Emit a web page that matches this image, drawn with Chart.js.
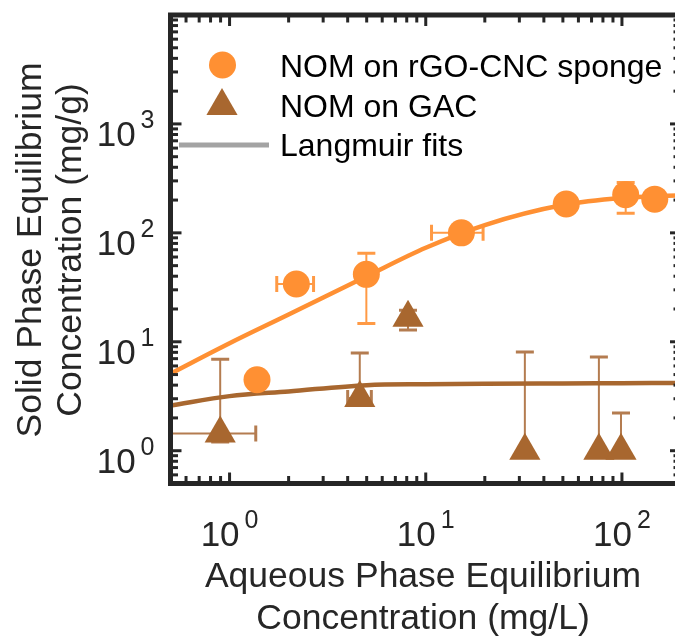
<!DOCTYPE html>
<html>
<head>
<meta charset="utf-8">
<script src="https://cdn.jsdelivr.net/npm/chart.js@4.4.1/dist/chart.umd.min.js"></script>
<style>
  html, body { margin: 0; padding: 0; background: #fff; overflow: hidden; }
  canvas { display: block; }
</style>
</head>
<body>
<canvas id="isotherm" width="700" height="637"></canvas>
<script>
// NOM on rGO-CNC sponge (mg/L, mg/g)
const spongeX   = [1.38, 2.19, 4.98, 15.2, 52, 104.5, 147];
const spongeY   = [4.48, 33.9, 41.6, 100, 184, 224, 204];
const spongeXLo = [null, 1.74, null, 10.7, null, null, null];
const spongeXHi = [null, 2.68, null, 19.6, null, null, null];
const spongeYLo = [null, null, 14.7, null, null, 151, null];
const spongeYHi = [null, null, 65, null, null, 290, null];

// NOM on GAC
const gacX   = [0.896, 4.61, 8.12, 32, 76.3, 98.9];
const gacY   = [1.44, 3.05, 16.6, 1.0, 1.0, 1.0];
const gacXLo = [0.44, 4.0, null, null, null, null];
const gacXHi = [1.36, 5.28, null, null, null, null];
const gacYLo = [1.2, 2.6, 12.8, null, null, null];
const gacYHi = [6.9, 7.9, 19.5, 8.06, 7.24, 2.22];

// Langmuir fit curves
const fitX       = [0.5, 1, 2, 5, 10, 20, 50, 100, 200];
const spongeFitY = [5.1, 9.7, 17.8, 40, 73, 118, 180, 209, 221];
const gacFitY    = [2.6, 3.17, 3.5, 4.0, 4.08, 4.12, 4.15, 4.17, 4.19];

const xTickValues = [1, 10, 100];
const xTickExps   = ['0', '1', '2'];
const yTickValues = [1, 10, 100, 1000];
const yTickExps   = ['0', '1', '2', '3'];

const legendLabels = ['NOM on rGO-CNC sponge', 'NOM on GAC', 'Langmuir fits'];
const xTitle = ['Aqueous Phase Equilibrium', 'Concentration (mg/L)'];
const yTitle = ['Solid Phase Equilibrium', 'Concentration (mg/g)'];

const FONT = '"Liberation Sans", Arial, Helvetica, sans-serif';
const INK = '#262626';
const ORANGE = '#FF9033';
const BROWN = '#A8672F';
const ORANGE_ERR = '#FF9A45';
const BROWN_ERR = '#B47C50';
const GREY = '#A3A3A3';

function pairs(xs, ys) {
    return xs.map((x, i) => ({ x: x, y: ys[i] }));
}

function seg(ctx, x1, y1, x2, y2) {
    ctx.beginPath();
    ctx.moveTo(x1, y1);
    ctx.lineTo(x2, y2);
    ctx.stroke();
}

function logTicks(min, max) {
    const out = [];
    for (let e = Math.floor(Math.log10(min)); e <= Math.ceil(Math.log10(max)); e++) {
        for (let m = 1; m <= 9; m++) {
            const v = m * Math.pow(10, e);
            if (v >= min * 0.999 && v <= max * 1.001) out.push({ v: v, major: m === 1 });
        }
    }
    return out;
}

function powerLabel(ctx, exp, x, y, align) {
    ctx.font = '35px ' + FONT;
    const wb = ctx.measureText('10').width;
    ctx.font = '25px ' + FONT;
    const we = ctx.measureText(exp).width;
    const gap = 5;
    const total = wb + gap + we;
    const x0 = align === 'center' ? x - total / 2 : x - total;
    ctx.textAlign = 'left';
    ctx.textBaseline = 'alphabetic';
    ctx.font = '35px ' + FONT;
    ctx.fillText('10', x0, y);
    ctx.font = '25px ' + FONT;
    ctx.fillText(exp, x0 + wb + gap, y - 18);
}

const errorBars = {
    id: 'errorBars',
    beforeDatasetsDraw(chart) {
        const { ctx, chartArea: a } = chart;
        const xs = chart.scales.x, ys = chart.scales.y;
        ctx.save();
        ctx.beginPath();
        ctx.rect(a.left, a.top, a.right - a.left, a.bottom - a.top);
        ctx.clip();
        const sets = [
            [spongeX, spongeY, spongeXLo, spongeXHi, spongeYLo, spongeYHi, ORANGE_ERR],
            [gacX, gacY, gacXLo, gacXHi, gacYLo, gacYHi, BROWN_ERR]
        ];
        sets.forEach(([X, Y, xl, xh, yl, yh, color]) => {
            ctx.strokeStyle = color;
            X.forEach((x, i) => {
                const px = xs.getPixelForValue(x);
                const py = ys.getPixelForValue(Y[i]);
                if (yl[i] != null || yh[i] != null) {
                    const t = ys.getPixelForValue(yh[i] != null ? yh[i] : Y[i]);
                    const b = ys.getPixelForValue(yl[i] != null ? yl[i] : Y[i]);
                    ctx.lineWidth = 2;
                    seg(ctx, px, t, px, b);
                    ctx.lineWidth = 3;
                    if (yh[i] != null) seg(ctx, px - 9, t, px + 9, t);
                    if (yl[i] != null) seg(ctx, px - 9, b, px + 9, b);
                }
                if (xl[i] != null || xh[i] != null) {
                    const l = xs.getPixelForValue(xl[i] != null ? xl[i] : x);
                    const r = xs.getPixelForValue(xh[i] != null ? xh[i] : x);
                    ctx.lineWidth = 2;
                    seg(ctx, l, py, r, py);
                    ctx.lineWidth = 3;
                    if (xl[i] != null) seg(ctx, l, py - 8, l, py + 8);
                    if (xh[i] != null) seg(ctx, r, py - 8, r, py + 8);
                }
            });
        });
        ctx.restore();
    }
};

const axesFrame = {
    id: 'axesFrame',
    afterDraw(chart) {
        const { ctx, chartArea: a } = chart;
        const xs = chart.scales.x, ys = chart.scales.y;
        ctx.save();
        ctx.strokeStyle = INK;
        ctx.fillStyle = INK;

        // box
        ctx.lineWidth = 5;
        ctx.strokeRect(a.left, a.top, a.right - a.left, a.bottom - a.top);

        // inward ticks on all four sides
        ctx.lineWidth = 3;
        logTicks(xs.min, xs.max).forEach(t => {
            const px = xs.getPixelForValue(t.v);
            const len = t.major ? 11 : 7.5;
            seg(ctx, px, a.bottom, px, a.bottom - len);
            seg(ctx, px, a.top, px, a.top + len);
        });
        logTicks(ys.min, ys.max).forEach(t => {
            const py = ys.getPixelForValue(t.v);
            const len = t.major ? 11 : 7.5;
            seg(ctx, a.left, py, a.left + len, py);
            seg(ctx, a.right, py, a.right - len, py);
        });

        // tick labels
        xTickValues.forEach((v, i) => {
            powerLabel(ctx, xTickExps[i], xs.getPixelForValue(v), 546, 'center');
        });
        yTickValues.forEach((v, i) => {
            powerLabel(ctx, yTickExps[i], 154.5, ys.getPixelForValue(v) + 22, 'right');
        });

        // axis titles
        ctx.font = '35.5px ' + FONT;
        ctx.textAlign = 'center';
        ctx.textBaseline = 'alphabetic';
        ctx.fillText(xTitle[0], 423, 587);
        ctx.fillText(xTitle[1], 423, 629);
        [41, 81].forEach((bx, i) => {
            ctx.save();
            ctx.translate(bx, 250);
            ctx.rotate(-Math.PI / 2);
            ctx.fillText(yTitle[i], 0, 0);
            ctx.restore();
        });

        // legend
        ctx.fillStyle = ORANGE;
        ctx.beginPath();
        ctx.arc(222.5, 65, 13.5, 0, Math.PI * 2);
        ctx.fill();
        ctx.fillStyle = BROWN;
        const r = 18, cx = 222, cy = 106;
        ctx.beginPath();
        ctx.moveTo(cx, cy - r);
        ctx.lineTo(cx + r * Math.sin(2 * Math.PI / 3), cy + r / 2);
        ctx.lineTo(cx - r * Math.sin(2 * Math.PI / 3), cy + r / 2);
        ctx.closePath();
        ctx.fill();
        ctx.strokeStyle = GREY;
        ctx.lineWidth = 5;
        seg(ctx, 179, 145, 269, 145);

        ctx.fillStyle = '#000';
        ctx.font = '32px ' + FONT;
        ctx.textAlign = 'left';
        ctx.fillText(legendLabels[0], 280, 76.5);
        ctx.fillText(legendLabels[1], 280, 117);
        ctx.fillText(legendLabels[2], 280, 155.5);
        ctx.restore();
    }
};

new Chart(document.getElementById('isotherm'), {
    type: 'scatter',
    data: {
        datasets: [
            {
                label: legendLabels[0],
                data: pairs(spongeX, spongeY),
                pointStyle: 'circle',
                pointRadius: 13.5,
                pointBorderWidth: 0,
                pointBackgroundColor: ORANGE,
                order: 0
            },
            {
                label: legendLabels[1],
                data: pairs(gacX, gacY),
                pointStyle: 'triangle',
                pointRadius: 18,
                pointBorderWidth: 0,
                pointBackgroundColor: BROWN,
                order: 0
            },
            {
                label: 'rGO-CNC fit',
                data: pairs(fitX, spongeFitY),
                showLine: true,
                pointRadius: 0,
                borderColor: ORANGE,
                borderWidth: 4.5,
                cubicInterpolationMode: 'monotone',
                order: 1
            },
            {
                label: 'GAC fit',
                data: pairs(fitX, gacFitY),
                showLine: true,
                pointRadius: 0,
                borderColor: BROWN,
                borderWidth: 4.5,
                cubicInterpolationMode: 'monotone',
                order: 1
            }
        ]
    },
    options: {
        responsive: false,
        animation: false,
        layout: {
            autoPadding: false,
            padding: { left: 170.5, right: 19, top: 15, bottom: 153.5 }
        },
        plugins: {
            legend: { display: false },
            tooltip: { enabled: false }
        },
        scales: {
            x: {
                type: 'logarithmic',
                min: 0.5,
                max: 200,
                ticks: { display: false },
                grid: { display: false },
                border: { display: false },
                afterFit: s => { s.height = 0; }
            },
            y: {
                type: 'logarithmic',
                min: 0.5,
                max: 10000,
                ticks: { display: false },
                grid: { display: false },
                border: { display: false },
                afterFit: s => { s.width = 0; }
            }
        }
    },
    plugins: [errorBars, axesFrame]
});
</script>
</body>
</html>
